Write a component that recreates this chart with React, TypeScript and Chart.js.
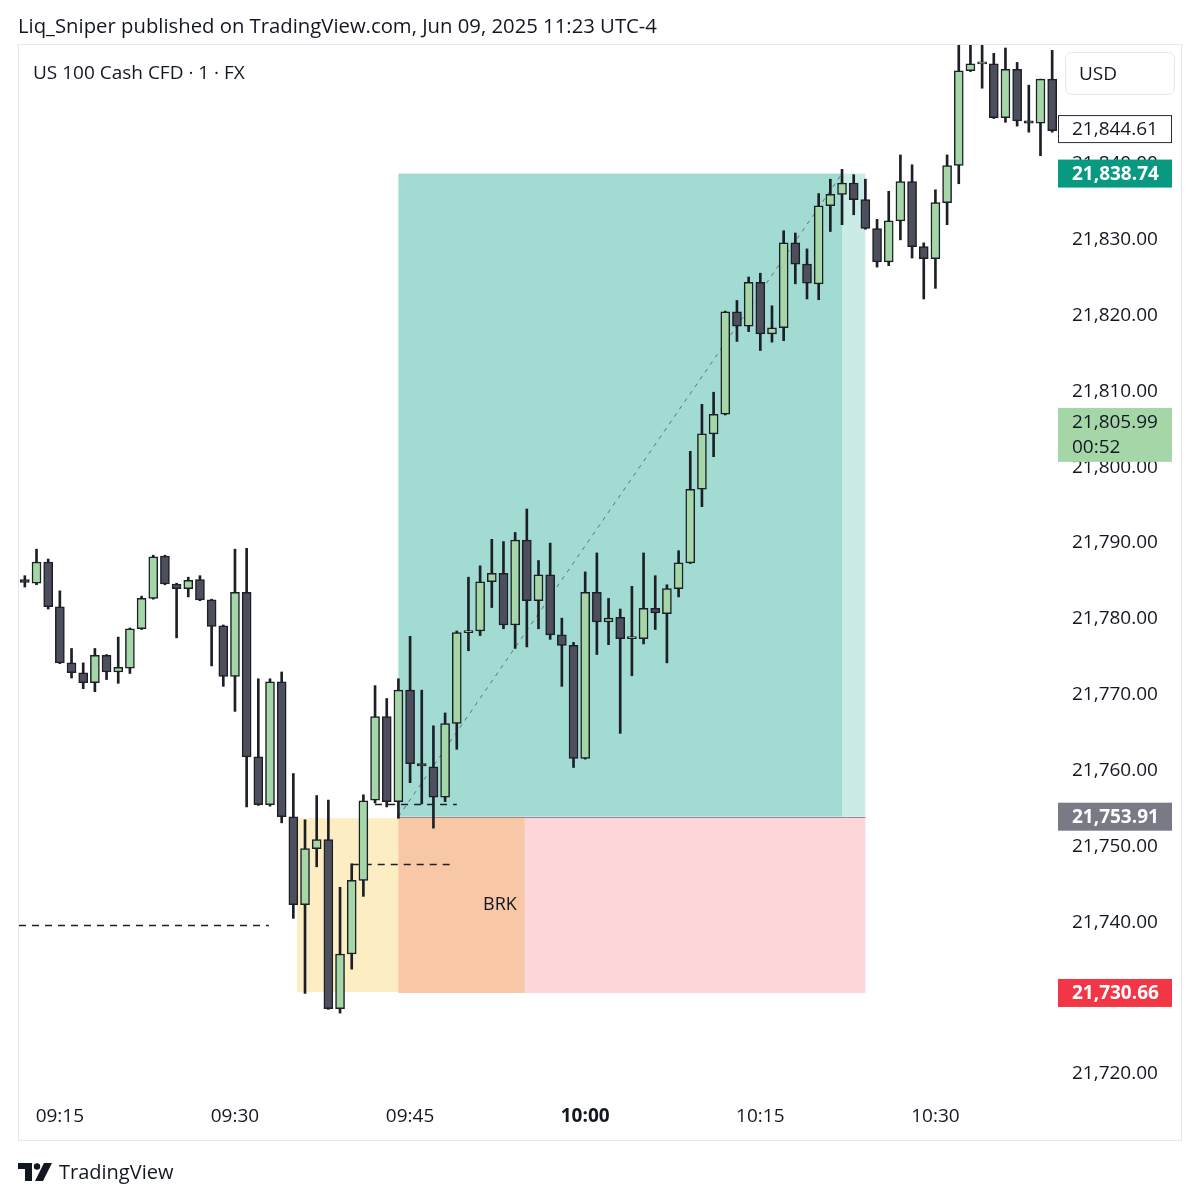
import React, { useEffect, useRef } from 'react';
import { Chart, registerables } from 'chart.js';
Chart.register(...registerables);

const FONT = '"Open Sans", "Noto Sans", sans-serif';

const timeLabels = [
  '09:12','09:13','09:14','09:15','09:16','09:17','09:18','09:19','09:20','09:21',
  '09:22','09:23','09:24','09:25','09:26','09:27','09:28','09:29','09:30','09:31',
  '09:32','09:33','09:34','09:35','09:36','09:37','09:38','09:39','09:40','09:41',
  '09:42','09:43','09:44','09:45','09:46','09:47','09:48','09:49','09:50','09:51',
  '09:52','09:53','09:54','09:55','09:56','09:57','09:58','09:59','10:00','10:01',
  '10:02','10:03','10:04','10:05','10:06','10:07','10:08','10:09','10:10','10:11',
  '10:12','10:13','10:14','10:15','10:16','10:17','10:18','10:19','10:20','10:21',
  '10:22','10:23','10:24','10:25','10:26','10:27','10:28','10:29','10:30','10:31',
  '10:32','10:33','10:34','10:35','10:36','10:37','10:38','10:39','10:40',
];

const opens = [
  21785.2,21784.7,21787.5,21781.6,21774.2,21772.9,21771.6,21775.2,21773.0,21773.5,
  21778.7,21782.7,21788.3,21784.6,21784.0,21785.2,21782.5,21779.1,21772.4,21783.5,
  21761.8,21755.5,21771.7,21753.9,21742.3,21749.7,21750.9,21728.6,21735.8,21745.5,
  21756.1,21767.1,21755.9,21770.6,21760.9,21760.5,21756.5,21766.2,21778.2,21778.4,
  21784.9,21786.0,21779.2,21790.4,21782.4,21785.8,21777.9,21776.5,21761.6,21783.5,
  21779.6,21780.2,21777.4,21777.4,21781.4,21780.7,21784.0,21787.4,21797.1,21804.4,
  21807.0,21820.5,21818.6,21824.4,21817.6,21818.4,21829.6,21826.8,21824.2,21834.5,
  21836.0,21837.5,21835.3,21831.5,21827.1,21832.5,21837.7,21829.1,21827.5,21834.9,
  21839.8,21852.3,21853.2,21853.2,21846.1,21852.5,21845.7,21845.4,21851.2,
];
const highs = [
  21785.7,21789.2,21787.9,21783.7,21776.1,21774.2,21776.1,21775.3,21777.6,21778.8,
  21783.0,21788.4,21788.4,21784.7,21785.5,21785.7,21782.6,21779.2,21789.2,21789.3,
  21772.1,21772.1,21773.0,21759.6,21753.5,21756.7,21756.1,21744.6,21747.7,21756.8,
  21771.2,21769.5,21772.1,21777.7,21770.6,21765.9,21767.6,21778.4,21785.5,21787.0,
  21790.5,21790.2,21791.4,21794.5,21787.7,21790.0,21780.1,21776.9,21786.2,21788.7,
  21782.7,21781.3,21784.3,21788.7,21785.7,21784.5,21789.0,21802.1,21808.3,21809.9,
  21820.6,21822.0,21825.1,21825.6,21821.3,21831.2,21830.9,21828.8,21836.1,21838.0,
  21839.3,21838.6,21838.0,21832.7,21836.4,21841.2,21839.9,21829.6,21836.6,21841.2,
  21857.0,21857.0,21857.0,21854.6,21855.3,21853.4,21850.4,21851.2,21855.0,
];
const lows = [
  21784.2,21784.5,21781.3,21774.1,21772.2,21770.8,21770.4,21772.0,21771.5,21772.8,
  21778.6,21782.6,21784.5,21777.5,21782.9,21782.4,21773.8,21771.1,21767.8,21755.2,
  21755.4,21755.3,21753.1,21740.5,21730.6,21747.3,21728.5,21728.0,21733.8,21743.4,
  21755.7,21755.2,21753.7,21758.4,21755.6,21752.4,21755.9,21762.8,21775.8,21777.8,
  21781.5,21778.7,21776.1,21776.3,21778.7,21777.3,21771.1,21760.4,21761.5,21775.3,
  21776.6,21764.9,21772.5,21776.7,21778.6,21774.2,21782.9,21787.3,21794.8,21801.4,
  21806.9,21816.6,21817.9,21815.4,21816.5,21816.7,21824.2,21822.2,21822.1,21831.1,
  21832.0,21833.3,21831.4,21826.4,21826.6,21830.0,21827.6,21822.2,21823.6,21832.0,
  21837.4,21852.2,21850.0,21846.0,21845.5,21845.0,21844.2,21841.1,21844.2,
];
const closes = [
  21784.8,21787.5,21781.6,21774.2,21772.9,21771.6,21775.2,21773.0,21773.6,21778.7,
  21782.7,21788.2,21784.6,21784.0,21785.1,21782.5,21779.0,21772.4,21783.5,21761.8,
  21755.5,21771.7,21753.9,21742.3,21749.7,21750.9,21728.6,21735.8,21745.5,21756.0,
  21767.1,21755.9,21770.6,21760.9,21760.6,21756.5,21766.2,21778.2,21778.3,21784.9,
  21786.0,21779.2,21790.4,21782.4,21785.8,21777.9,21776.5,21761.6,21783.5,21779.6,
  21780.1,21777.4,21777.4,21781.4,21780.8,21784.0,21787.4,21797.1,21804.4,21807.0,
  21820.5,21818.6,21824.4,21817.6,21818.4,21829.6,21826.8,21824.3,21834.5,21836.0,
  21837.5,21835.3,21831.5,21827.1,21832.5,21837.7,21829.1,21827.5,21834.9,21839.8,
  21852.3,21853.2,21853.3,21846.1,21852.5,21845.7,21845.4,21851.2,21844.4,
];

const yTickValues = [21720, 21730, 21740, 21750, 21760, 21770, 21780, 21790, 21800, 21810, 21820, 21830, 21840];
const xTickIndices = [3, 18, 33, 48, 63, 78];
const boldTickIndex = 48;
const yMin = 21717.2;
const yMax = 21855.7;

// Long position tool
const entryPrice = 21753.91;
const targetPrice = 21838.74;
const stopPrice = 21730.66;
const tradeStart = 32;
const tradeHit = 70;
const tradeEnd = 72;

// Break zone
const zoneStart = 23.3;
const zoneEnd = 42.8;
const zoneTop = 21753.7;
const zoneBottom = 21730.8;
const zoneLabel = 'BRK';
const zoneLabelAt = [40.7, 21742.3];

// Dashed levels: [price, fromIndex, toIndex]
const dashedLevels = [
  [21739.6, -0.5, 20.9],
  [21747.7, 28, 36.6],
  [21755.6, 30, 37.0],
];

const lastPrice = 21844.61;
const livePrice = 21805.99;
const liveCountdown = '00:52';

const fmt = (v: number) => v.toLocaleString('en-US', { minimumFractionDigits: 2, maximumFractionDigits: 2 });

const overlayPlugin = {
  id: 'tvOverlay',
  beforeDatasetsDraw(chart: any) {
    const { ctx, chartArea, scales } = chart;
    const x = scales.x, y = scales.y;
    const px = (i: number) => x.getPixelForValue(i);
    const py = (p: number) => y.getPixelForValue(p);
    ctx.save();
    ctx.beginPath();
    ctx.rect(chartArea.left, chartArea.top, chartArea.right - chartArea.left, chartArea.bottom - chartArea.top);
    ctx.clip();
    const rect = (i0: number, i1: number, p0: number, p1: number, color: string) => {
      const X0 = px(i0), X1 = px(i1), Y0 = py(p0), Y1 = py(p1);
      ctx.fillStyle = color;
      ctx.fillRect(X0, Math.min(Y0, Y1), X1 - X0, Math.abs(Y1 - Y0));
    };
    rect(tradeStart, tradeHit, targetPrice, entryPrice, '#a2dbd1');
    rect(tradeHit, tradeEnd, targetPrice, entryPrice, '#cbebe6');
    rect(tradeStart, tradeEnd, entryPrice, stopPrice, '#fdd6d9');
    rect(zoneStart, tradeStart, zoneTop, zoneBottom, '#fcedc2');
    rect(tradeStart, zoneEnd, entryPrice, stopPrice, '#f8c8a6');
    ctx.strokeStyle = '#8a8d96';
    ctx.lineWidth = 1;
    ctx.beginPath();
    ctx.moveTo(px(tradeStart), Math.round(py(entryPrice)) + 0.5);
    ctx.lineTo(px(tradeEnd), Math.round(py(entryPrice)) + 0.5);
    ctx.stroke();
    ctx.strokeStyle = '#6b6e77';
    ctx.setLineDash([4, 5]);
    ctx.beginPath();
    ctx.moveTo(px(tradeStart), py(entryPrice));
    ctx.lineTo(px(tradeHit), py(targetPrice));
    ctx.stroke();
    ctx.strokeStyle = '#1c1f26';
    ctx.lineWidth = 1.5;
    ctx.setLineDash([7, 6]);
    dashedLevels.forEach(([p, a, b]) => {
      const Y = Math.round(py(p)) + 0.5;
      ctx.beginPath();
      ctx.moveTo(px(a), Y);
      ctx.lineTo(px(b), Y);
      ctx.stroke();
    });
    ctx.setLineDash([]);
    ctx.fillStyle = '#131722';
    ctx.font = `18px ${FONT}`;
    ctx.textAlign = 'center';
    ctx.textBaseline = 'middle';
    ctx.fillText(zoneLabel, px(zoneLabelAt[0]), py(zoneLabelAt[1]));
    ctx.restore();
  },
  afterDraw(chart: any) {
    const { ctx, chartArea, scales } = chart;
    const y = scales.y;
    const left = chartArea.right;
    const w = 114;
    ctx.save();
    ctx.strokeStyle = '#e6e7eb';
    ctx.lineWidth = 1;
    ctx.strokeRect(18.5, 44.5, 1163, 1096);
    const box = (price: number, bg: string, fg: string, bold: boolean, border?: string) => {
      const Y = y.getPixelForValue(price);
      ctx.fillStyle = bg;
      ctx.fillRect(left, Y - 14, w, 28);
      if (border) {
        ctx.strokeStyle = border;
        ctx.lineWidth = 1;
        ctx.strokeRect(left + 0.5, Y - 13.5, w - 1, 27);
      }
      ctx.fillStyle = fg;
      ctx.font = `${bold ? 'bold ' : ''}19px ${FONT}`;
      ctx.textAlign = 'left';
      ctx.textBaseline = 'middle';
      ctx.fillText(fmt(price), left + 14, Y + 1);
    };
    box(lastPrice, '#ffffff', '#131722', false, '#2a2e39');
    box(targetPrice, '#089981', '#ffffff', true);
    box(entryPrice, '#787b86', '#ffffff', true);
    box(stopPrice, '#f23645', '#ffffff', true);
    const Yl = y.getPixelForValue(livePrice);
    ctx.fillStyle = '#a5d6a7';
    ctx.fillRect(left, Yl - 14, w, 54);
    ctx.fillStyle = '#131722';
    ctx.font = `19px ${FONT}`;
    ctx.textAlign = 'left';
    ctx.textBaseline = 'middle';
    ctx.fillText(fmt(livePrice), left + 14, Yl + 1);
    ctx.fillText(liveCountdown, left + 14, Yl + 26);
    ctx.fillStyle = '#ffffff';
    ctx.fillRect(1065, 52, 110, 43);
    ctx.strokeStyle = '#e6e7eb';
    ctx.beginPath();
    (ctx as any).roundRect(1065.5, 52.5, 109, 42, 6);
    ctx.stroke();
    ctx.restore();
  },
};

export default function App() {
  const ref = useRef<HTMLCanvasElement | null>(null);
  useEffect(() => {
    if (!ref.current) return;
    const bodyColors = opens.map((o, i) => (closes[i] >= o ? '#a5d6a7' : '#4d505c'));
    const chart = new Chart(ref.current, {
      type: 'bar',
      data: {
        labels: timeLabels,
        datasets: [
          {
            label: 'body',
            data: opens.map((o, i) => [Math.min(o, closes[i]), Math.max(o, closes[i])]) as any,
            backgroundColor: bodyColors,
            borderColor: '#1c1f26',
            borderWidth: 1.5,
            borderSkipped: false,
            barThickness: 9,
            minBarLength: 2,
            grouped: false,
            order: 0,
          } as any,
          {
            label: 'wick',
            data: lows.map((l, i) => [l, highs[i]]) as any,
            backgroundColor: '#1c1f26',
            borderWidth: 0,
            barThickness: 2,
            grouped: false,
            order: 1,
          } as any,
        ],
      },
      options: {
        responsive: false,
        animation: false,
        layout: { padding: { left: 19, top: 45, right: 0, bottom: 0 } },
        plugins: { legend: { display: false }, tooltip: { enabled: false } },
        scales: {
          x: {
            type: 'category',
            offset: true,
            grid: { display: false, drawTicks: false },
            border: { display: false },
            afterBuildTicks: (s: any) => {
              s.ticks = xTickIndices.map((v) => ({ value: v }));
            },
            afterFit: (s: any) => {
              s.height = 105;
            },
            ticks: {
              autoSkip: false,
              maxRotation: 0,
              padding: 10,
              color: '#131722',
              font: (c: any) => ({ family: FONT, size: 19, weight: c.tick && c.tick.value === boldTickIndex ? 'bold' : 'normal' }),
            },
          } as any,
          y: {
            type: 'linear',
            position: 'right',
            min: yMin,
            max: yMax,
            grid: { display: false, drawTicks: false },
            border: { display: false },
            afterBuildTicks: (s: any) => {
              s.ticks = yTickValues.map((v) => ({ value: v }));
            },
            afterFit: (s: any) => {
              s.width = 142;
            },
            ticks: {
              padding: 14,
              color: '#131722',
              font: { family: FONT, size: 19 },
              callback: (v: any) => fmt(Number(v)),
            },
          } as any,
        },
      },
      plugins: [overlayPlugin],
    });
    return () => chart.destroy();
  }, []);

  return (
    <div style={{ position: 'absolute', left: 0, top: 0, width: 1200, height: 1200, background: '#ffffff', fontFamily: FONT, color: '#131722' }}>
      <canvas ref={ref} width={1200} height={1200} style={{ position: 'absolute', left: 0, top: 0, width: 1200, height: 1200 }} />
      <div style={{ position: 'absolute', left: 18, top: 12, fontSize: 20.3, lineHeight: '26px', whiteSpace: 'nowrap' }}>
        Liq_Sniper published on TradingView.com, Jun 09, 2025 11:23 UTC-4
      </div>
      <div style={{ position: 'absolute', left: 33, top: 60, fontSize: 19, lineHeight: '24px', whiteSpace: 'nowrap' }}>
        US 100 Cash CFD · 1 · FX
      </div>
      <div style={{ position: 'absolute', left: 1079, top: 61, fontSize: 19, lineHeight: '24px' }}>USD</div>
      <div style={{ position: 'absolute', left: 18, top: 1160, display: 'flex', alignItems: 'center' }}>
        <svg width="34" height="18" viewBox="0 0 34 18">
          <path d="M0 0H14V18H7V6H0Z" fill="#131722" />
          <circle cx="19" cy="3.5" r="3.2" fill="#131722" />
          <path d="M26 0H34L25 18H17Z" fill="#131722" />
        </svg>
        <span style={{ marginLeft: 7, fontSize: 20, lineHeight: '24px' }}>TradingView</span>
      </div>
    </div>
  );
}
